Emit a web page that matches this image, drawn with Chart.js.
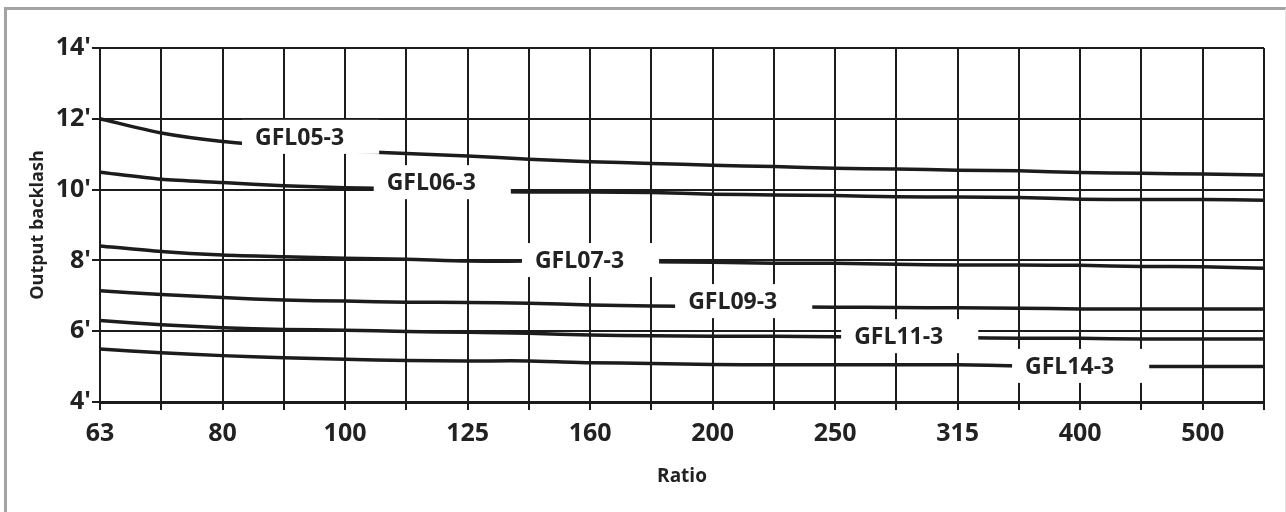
<!DOCTYPE html>
<html>
<head>
<meta charset="utf-8">
<script src="https://cdn.jsdelivr.net/npm/chart.js@4.4.1/dist/chart.umd.min.js"></script>
<style>
  html, body { margin: 0; padding: 0; background: #fff; }
  #wrap { position: relative; width: 1286px; height: 512px; overflow: hidden; }
  #frame {
    position: absolute; left: 4px; top: 7px; right: 0; bottom: -10px;
    border-left: 3px solid #a3a3a3; border-top: 3px solid #a3a3a3; border-right: 1px solid #e2e2e2;
    pointer-events: none;
  }
  canvas { position: absolute; left: 0; top: 0; }
</style>
</head>
<body>
<div id="wrap">
  <canvas id="backlashChart" width="1286" height="512"></canvas>
  <div id="frame"></div>
</div>
<script>
// reduções (série R20), só uma sim outra não leva rótulo
const ratios = ['63', '71', '80', '90', '100', '112', '125', '140', '160', '180',
                '200', '224', '250', '280', '315', '355', '400', '450', '500', '560'];
const yTicks = [4, 6, 8, 10, 12, 14];

// folga de saída (minutos de arco)
const gfl05 = [12.0, 11.6, 11.36, 11.22, 11.1, 11.02, 10.95, 10.86, 10.79, 10.74,
               10.69, 10.65, 10.60, 10.58, 10.55, 10.53, 10.48, 10.46, 10.44, 10.41];
const gfl06 = [10.49, 10.29, 10.20, 10.11, 10.05, 10.02, 9.96, 9.93, 9.93, 9.92,
               9.87, 9.85, 9.83, 9.80, 9.79, 9.78, 9.73, 9.72, 9.72, 9.70];
const gfl07 = [8.41, 8.25, 8.15, 8.10, 8.06, 8.03, 7.98, 7.98, 7.97, 7.96,
               7.95, 7.92, 7.92, 7.89, 7.87, 7.87, 7.86, 7.83, 7.82, 7.78];
const gfl09 = [7.14, 7.04, 6.95, 6.88, 6.85, 6.82, 6.81, 6.79, 6.74, 6.71,
               6.70, 6.69, 6.68, 6.67, 6.66, 6.65, 6.63, 6.63, 6.63, 6.63];
const gfl11 = [6.30, 6.18, 6.10, 6.05, 6.03, 5.99, 5.97, 5.94, 5.89, 5.87,
               5.86, 5.86, 5.84, 5.83, 5.82, 5.80, 5.80, 5.78, 5.78, 5.78];
const gfl14 = [5.50, 5.39, 5.31, 5.25, 5.21, 5.17, 5.16, 5.16, 5.11, 5.09,
               5.06, 5.05, 5.05, 5.05, 5.05, 5.02, 5.01, 5.00, 5.00, 5.00];

const seriesNames = ['GFL05-3', 'GFL06-3', 'GFL07-3', 'GFL09-3', 'GFL11-3', 'GFL14-3'];
const seriesData = [gfl05, gfl06, gfl07, gfl09, gfl11, gfl14];
// onde cada nome fica escrito sobre a curva (índice da redução, valor)
const labelAt = [2.53, 4.68, 7.10, 9.60, 12.31, 15.10];
const labelLevel = [11.49, 10.21, 8.01, 6.85, 5.86, 5.02];

const INK = '#1c1c1c';
const FONT = '"Open Sans", "Noto Sans", sans-serif';

// caixas brancas com o nome da série, desenhadas por cima das linhas e da grade
const curveLabels = {
  id: 'curveLabels',
  afterDatasetsDraw(chart) {
    const ctx = chart.ctx;
    const x = chart.scales.x, y = chart.scales.y;
    const size = 23;
    ctx.save();
    ctx.font = 'bold ' + size + 'px ' + FONT;
    ctx.textAlign = 'left';
    ctx.textBaseline = 'alphabetic';
    seriesNames.forEach((name, i) => {
      const left = x.getPixelForValue(labelAt[i]);
      const mid = y.getPixelForValue(labelLevel[i]);
      const w = ctx.measureText(name).width;
      ctx.fillStyle = '#fff';
      ctx.fillRect(left - 13, mid - 17, w + 48, 34);
      ctx.fillStyle = '#222';
      ctx.fillText(name, left, mid + size * 0.36);
    });
    ctx.restore();
  }
};

const ctx = document.getElementById('backlashChart').getContext('2d');
new Chart(ctx, {
  type: 'line',
  data: {
    labels: ratios,
    datasets: seriesData.map((d, i) => ({
      label: seriesNames[i],
      data: d,
      borderColor: INK,
      borderWidth: 3.5,
      pointRadius: 0,
      tension: 0.25,
      fill: false
    }))
  },
  options: {
    responsive: false,
    animation: false,
    devicePixelRatio: 1,
    layout: { padding: { left: 0, top: 48, right: 22, bottom: 0 } },
    plugins: { legend: { display: false }, tooltip: { enabled: false } },
    scales: {
      x: {
        type: 'category',
        offset: false,
        afterFit(scale) { scale.height = 110; },
        grid: { color: INK, lineWidth: 2, tickLength: 8, tickColor: INK, tickWidth: 2 },
        border: { color: INK, width: 3 },
        ticks: {
          autoSkip: false,
          maxRotation: 0,
          padding: 9,
          color: '#222',
          font: { family: FONT, size: 25, weight: 'bold' },
          callback: (v, i) => (i % 2 === 0 && i < ratios.length - 1 ? ratios[i] : '')
        },
        title: {
          display: true,
          text: 'Ratio',
          color: '#222',
          font: { family: FONT, size: 19, weight: 'bold' },
          padding: { top: 0, bottom: 24 }
        }
      },
      y: {
        min: 4,
        max: 14,
        afterFit(scale) { scale.width = 100; },
        afterBuildTicks(scale) { scale.ticks = yTicks.map(v => ({ value: v })); },
        grid: { color: INK, lineWidth: 2, tickLength: 8, tickColor: INK, tickWidth: 2 },
        border: { color: INK, width: 2 },
        ticks: {
          padding: 1,
          color: '#222',
          font: { family: FONT, size: 25, weight: 'bold' },
          callback: v => v + "'"
        },
        title: {
          display: true,
          text: 'Output backlash',
          color: '#222',
          font: { family: FONT, size: 18, weight: 'bold' },
          padding: { top: 27, bottom: 0 }
        }
      }
    }
  },
  plugins: [curveLabels]
});
</script>
</body>
</html>
